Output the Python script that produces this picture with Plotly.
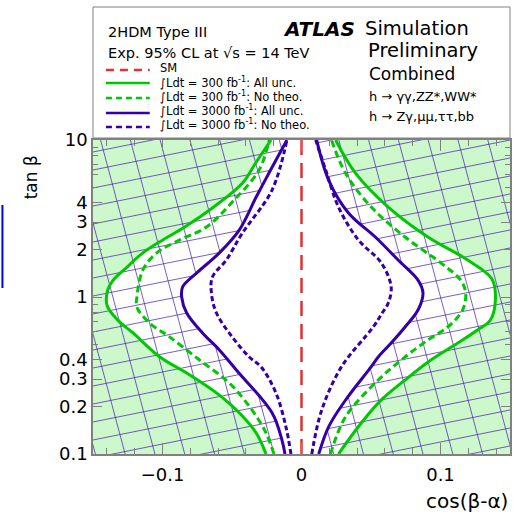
import numpy as np
import plotly.graph_objects as go

# ---------------- data ----------------
# tan(beta) values and cos(beta-alpha) boundaries, left (negative) and right (positive) branches
tb_gsol_L = [0.1, 0.136, 0.183, 0.245, 0.328, 0.415, 0.59, 0.71, 0.88, 1.1, 1.28, 1.55, 1.91, 2.31, 2.79, 3.69, 5.3, 7.14, 10]
cb_gsol_L = [-0.0255, -0.0326, -0.0448, -0.0612, -0.0826, -0.1019, -0.1212, -0.132, -0.1398, -0.1395, -0.1355, -0.1255, -0.1141, -0.0998, -0.084, -0.0641, -0.0426, -0.033, -0.0219]
tb_gsol_R = [0.1, 0.158, 0.221, 0.296, 0.397, 0.509, 0.616, 0.714, 0.957, 1.3, 1.72, 2.41, 3.74, 6.16, 10]
cb_gsol_R = [0.0266, 0.0431, 0.0574, 0.0745, 0.0931, 0.1124, 0.1266, 0.1359, 0.1395, 0.137, 0.1195, 0.0909, 0.0624, 0.0388, 0.0245]

tb_gdas_L = [0.1, 0.136, 0.19, 0.283, 0.397, 0.556, 0.68, 0.86, 1.0, 1.49, 1.91, 2.31, 2.79, 4.03, 6.44, 10]
cb_gdas_L = [-0.0198, -0.0255, -0.0355, -0.0519, -0.0734, -0.0948, -0.1091, -0.1184, -0.1184, -0.1141, -0.1041, -0.0876, -0.0684, -0.0498, -0.0305, -0.0232]
tb_gdas_R = [0.1, 0.172, 0.296, 0.415, 0.532, 0.644, 0.826, 1.06, 1.28, 1.65, 2.41, 3.74, 6.16, 10]
cb_gdas_R = [0.0209, 0.0316, 0.0552, 0.0745, 0.0909, 0.1052, 0.1159, 0.1181, 0.1145, 0.1002, 0.0745, 0.0502, 0.0316, 0.0216]

tb_bsol_L = [0.1, 0.123, 0.183, 0.343, 0.46, 0.59, 0.791, 1.0, 1.16, 1.42, 1.91, 2.67, 4.33, 6.16, 10]
cb_bsol_L = [-0.0119, -0.0141, -0.0212, -0.0469, -0.0591, -0.0712, -0.0826, -0.0862, -0.0855, -0.0755, -0.0591, -0.0448, -0.0326, -0.0234, -0.0105]
tb_bsol_R = [0.1, 0.149, 0.22, 0.36, 0.415, 0.509, 0.644, 0.826, 1.06, 1.28, 1.72, 2.41, 3.43, 5.56, 10]
cb_bsol_R = [0.0124, 0.0195, 0.0316, 0.0502, 0.0552, 0.0645, 0.0745, 0.0838, 0.0874, 0.0838, 0.0695, 0.0531, 0.0338, 0.0195, 0.0109]

tb_bdas_L = [0.1, 0.149, 0.245, 0.358, 0.415, 0.556, 0.791, 1.06, 1.34, 1.72, 2.55, 4.80, 10]
cb_bdas_L = [-0.0076, -0.0112, -0.0184, -0.029, -0.0376, -0.0498, -0.0612, -0.0648, -0.0641, -0.0541, -0.0426, -0.0212, -0.0105]
tb_bdas_R = [0.1, 0.19, 0.36, 0.644, 0.79, 0.915, 1.16, 1.65, 2.31, 3.74, 6.44, 10]
cb_bdas_R = [0.0074, 0.0145, 0.0288, 0.0516, 0.058, 0.0624, 0.0645, 0.0574, 0.0409, 0.0266, 0.0174, 0.0102]

sm_x = [0, 0]
sm_y = [0.1, 10]

y_tickvals = [0.1, 0.2, 0.3, 0.4, 1, 2, 3, 4, 10]
y_ticktext = ["0.1", "0.2", "0.3", "0.4", "1", "2", "3", "4", "10"]
y_minor = [0.5, 0.6, 0.7, 0.8, 0.9, 5, 6, 7, 8, 9]
x_tickvals = [-0.1, 0, 0.1]
x_ticktext = ["\u22120.1", "0", "0.1"]

legend_labels = ["SM",
                 "\u222bLdt = 300 fb<sup>-1</sup>: All unc.",
                 "\u222bLdt = 300 fb<sup>-1</sup>: No theo.",
                 "\u222bLdt = 3000 fb<sup>-1</sup>: All unc.",
                 "\u222bLdt = 3000 fb<sup>-1</sup>: No theo."]

# ---------------- style ----------------
GREEN = "#00c800"
BLUE = "#3300a8"
RED = "#dd3333"
FILL_GREEN = "#ccf8cc"
HATCH = "rgba(70,30,175,0.72)"
AXIS_GRAY = "#808080"
FONT = "DejaVu Sans"
SMOOTH = 1.0

X_RANGE = [-0.15, 0.15]
Y_RANGE = [-1, 1]
W, H = 513, 512
L, R, T, B = 93, 512, 140, 454


def px(x):
    return (x - L) / (R - L)


def py(y):
    return (B - y) / (B - T)


fig = go.Figure()

# green filled region outside the 300 fb-1 (all unc.) contour
edge = 0.25
fig.add_trace(go.Scatter(x=[-edge, -edge], y=[sm_y[0], sm_y[1]], mode="lines",
                         line=dict(width=0), hoverinfo="skip", showlegend=False))
fig.add_trace(go.Scatter(x=cb_gsol_L, y=tb_gsol_L, mode="lines", fill="tonextx",
                         fillcolor=FILL_GREEN, line=dict(width=0, shape="spline", smoothing=SMOOTH),
                         hoverinfo="skip", showlegend=False))
fig.add_trace(go.Scatter(x=[edge, edge], y=[sm_y[0], sm_y[1]], mode="lines",
                         line=dict(width=0), hoverinfo="skip", showlegend=False))
fig.add_trace(go.Scatter(x=cb_gsol_R, y=tb_gsol_R, mode="lines", fill="tonextx",
                         fillcolor=FILL_GREEN, line=dict(width=0, shape="spline", smoothing=SMOOTH),
                         hoverinfo="skip", showlegend=False))

# cross-hatch decoration (straight lines in screen space)
PXU = 1400.0   # px per unit of cos(b-a)
PXV = 157.0    # px per decade
hx, hy = [], []
c0 = -160.0
for k in range(-20, 21):
    c = c0 + 30.0 * k
    for v in (-300.0, 300.0):
        hx.append((c - 0.27 * v) / PXU)
        hy.append(10 ** (v / PXV))
    hx.append(None); hy.append(None)
c1 = 151.0
for k in range(-40, 41):
    c = c1 + 18.0 * k
    for u in (-320.0, 320.0):
        hx.append(u / PXU)
        hy.append(10 ** ((c + 0.2 * u) / PXV))
    hx.append(None); hy.append(None)
fig.add_trace(go.Scatter(x=hx, y=hy, mode="lines", line=dict(color=HATCH, width=1),
                         hoverinfo="skip", showlegend=False, connectgaps=False))

# white region inside the 3000 fb-1 (all unc.) contour
fig.add_trace(go.Scatter(x=cb_bsol_L, y=tb_bsol_L, mode="lines",
                         line=dict(width=0, shape="spline", smoothing=SMOOTH),
                         hoverinfo="skip", showlegend=False))
fig.add_trace(go.Scatter(x=cb_bsol_R, y=tb_bsol_R, mode="lines", fill="tonextx",
                         fillcolor="white", line=dict(width=0, shape="spline", smoothing=SMOOTH),
                         hoverinfo="skip", showlegend=False))

# contour lines
curves = [
    (cb_gsol_L, tb_gsol_L, cb_gsol_R, tb_gsol_R, GREEN, "solid"),
    (cb_gdas_L, tb_gdas_L, cb_gdas_R, tb_gdas_R, GREEN, "7px,4px"),
    (cb_bsol_L, tb_bsol_L, cb_bsol_R, tb_bsol_R, BLUE, "solid"),
    (cb_bdas_L, tb_bdas_L, cb_bdas_R, tb_bdas_R, BLUE, "5px,3px"),
]
for xl, yl, xr, yr, col, dash in curves:
    for xs, ys in ((xl, yl), (xr, yr)):
        fig.add_trace(go.Scatter(x=xs, y=ys, mode="lines",
                                 line=dict(color=col, width=3, dash=dash, shape="spline", smoothing=SMOOTH),
                                 showlegend=False))

fig.add_trace(go.Scatter(x=sm_x, y=sm_y, mode="lines",
                         line=dict(color=RED, width=2.5, dash="15px,8px"), showlegend=False))

# ---------------- layout ----------------
shapes = []
annotations = []

# legend / info box
shapes.append(dict(type="rect", xref="paper", yref="paper", x0=px(93), x1=px(512), y0=py(138), y1=py(7),
                   line=dict(color=AXIS_GRAY, width=1), fillcolor="white", layer="below"))

# legend line samples
leg_styles = [(RED, "8px,6px"), (GREEN, "solid"), (GREEN, "6px,4px"), (BLUE, "solid"), (BLUE, "6px,4px")]
leg_line_y = [70, 83, 98, 113, 127]
leg_text_y = [68, 82, 97, 111, 125]
for (col, dash), ly, ty, lab in zip(leg_styles, leg_line_y, leg_text_y, legend_labels):
    shapes.append(dict(type="line", xref="paper", yref="paper", x0=px(106), x1=px(150), y0=py(ly), y1=py(ly),
                       line=dict(color=col, width=2.5, dash=dash)))
    annotations.append(dict(text=lab, xref="paper", yref="paper", x=px(158), y=py(ty),
                            xanchor="left", yanchor="middle", showarrow=False,
                            font=dict(family=FONT, size=11.5, color="black")))

# odd blue artifact at the left border of the reference image
shapes.append(dict(type="line", xref="paper", yref="paper", x0=px(2), x1=px(2), y0=py(205), y1=py(288),
                   line=dict(color="#0000ff", width=2)))


def add_text(t, x, y, size, xanchor="left", angle=0):
    annotations.append(dict(text=t, xref="paper", yref="paper", x=px(x), y=py(y),
                            xanchor=xanchor, yanchor="middle", showarrow=False, textangle=angle,
                            font=dict(family=FONT, size=size, color="black")))


add_text("2HDM Type III", 106, 32, 14.5)
add_text("Exp. 95% CL at \u221as = 14 TeV", 106, 53, 14.5)
add_text("<b><i>ATLAS</i></b>", 358, 29, 20, xanchor="right")
add_text("Simulation", 364, 29, 19.5)
add_text("Preliminary", 367, 51, 19.5)
add_text("Combined", 368, 74, 17)
add_text("h \u2192 \u03b3\u03b3,ZZ*,WW*", 368, 96, 13)
add_text("h \u2192 Z\u03b3,\u03bc\u03bc,\u03c4\u03c4,bb", 368, 117, 13)
add_text("tan \u03b2", 31, 177, 17, xanchor="center", angle=-90)
add_text("cos(\u03b2-\u03b1)", 512, 501, 20, xanchor="right")

axis_common = dict(showline=True, linecolor=AXIS_GRAY, linewidth=1.5, mirror="ticks",
                   ticks="inside", tickcolor=AXIS_GRAY, tickwidth=1, showgrid=False, zeroline=False,
                   tickfont=dict(family=FONT, size=18, color="black"))

fig.update_layout(
    width=W, height=H,
    margin=dict(l=L, r=W - R, t=T, b=H - B, pad=0),
    paper_bgcolor="white", plot_bgcolor="white",
    showlegend=False,
    xaxis=dict(range=X_RANGE, tickmode="array", tickvals=x_tickvals, ticktext=x_ticktext, ticklen=11,
               ticklabelstandoff=4,
               minor=dict(tickmode="linear", tick0=0, dtick=0.02, ticks="inside", ticklen=6,
                          tickcolor=AXIS_GRAY, showgrid=False),
               **axis_common),
    yaxis=dict(type="log", range=Y_RANGE, tickmode="array", tickvals=y_tickvals, ticktext=y_ticktext,
               ticklen=9,
               minor=dict(tickmode="array", tickvals=y_minor, ticks="inside", ticklen=5,
                          tickcolor=AXIS_GRAY, showgrid=False),
               **axis_common),
    shapes=shapes,
    annotations=annotations,
)

fig.write_html("out.html")
